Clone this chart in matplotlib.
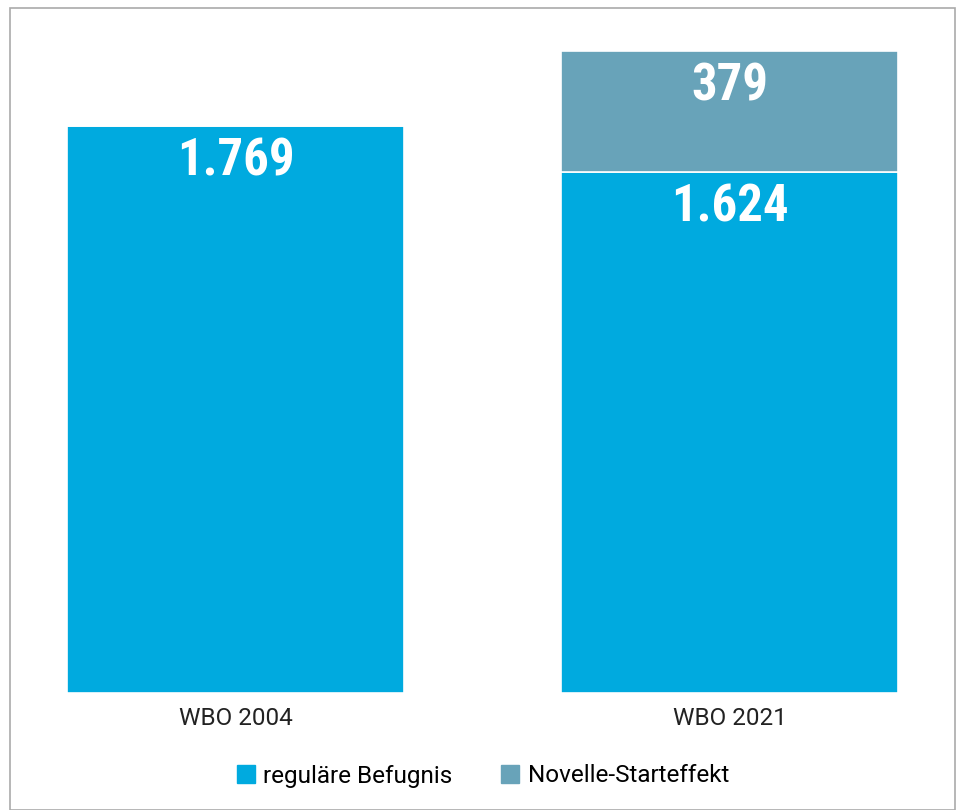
import matplotlib.pyplot as plt
from matplotlib.patches import Rectangle, Patch

categories = ['WBO 2004', 'WBO 2021']
regular = [1769, 1624]
novelle = [0, 379]
labels_regular = ['1.769', '1.624']
labels_novelle = ['', '379']
series_names = ['reguläre Befugnis', 'Novelle-Starteffekt']

blue = '#00aadf'
greyblue = '#68a3b9'

fig = plt.figure(figsize=(9.6, 8.1), dpi=100)
ax = fig.add_axes([9/960, (810-693)/810, 945/960, 686/810])

x = list(range(len(categories)))
bars1 = ax.bar(x, regular, width=0.682, color=blue, edgecolor='white', linewidth=1.2)
bars2 = ax.bar(x, novelle, width=0.682, bottom=regular, color=greyblue, edgecolor='white', linewidth=1.2)

ax.set_xlim(-0.4585, 1.4545)
ax.set_ylim(0, 2140)

numfont = dict(family=['Roboto Condensed', 'Roboto', 'DejaVu Sans'], fontstretch='condensed',
               weight='bold', size=36.5, color='white')
for b, t in zip(bars1, labels_regular):
    ax.annotate(t, (b.get_x() + b.get_width()/2, b.get_y() + b.get_height()),
                xytext=(0, -25.5), textcoords='offset points', ha='center', va='center', **numfont)
for b, t in zip(bars2, labels_novelle):
    if t:
        ax.annotate(t, (b.get_x() + b.get_width()/2, b.get_y() + b.get_height()),
                    xytext=(0, -25.5), textcoords='offset points', ha='center', va='center', **numfont)

for s in ax.spines.values():
    s.set_visible(False)
ax.set_yticks([])
ax.set_xticks(x)
ax.set_xticklabels(categories, family='Roboto', weight='normal', fontsize=17.5, color='#222222')
ax.tick_params(axis='x', length=0, pad=10)

handles = [Patch(color=blue), Patch(color=greyblue)]
fig.legend(handles, series_names, loc='center', bbox_to_anchor=(483/960, 1-776/810), ncol=2,
           frameon=False, handlelength=0.75, handleheight=0.75, handletextpad=0.35, columnspacing=2.0,
           prop=dict(family='Roboto', weight='normal', size=17.5))

fig.patches.append(Rectangle((9.5/960, 0), 945/960, (810-7.5)/810, transform=fig.transFigure,
                             fill=False, edgecolor='#aaaaaa', linewidth=1.2))

fig.savefig('out.png', dpi=100)
